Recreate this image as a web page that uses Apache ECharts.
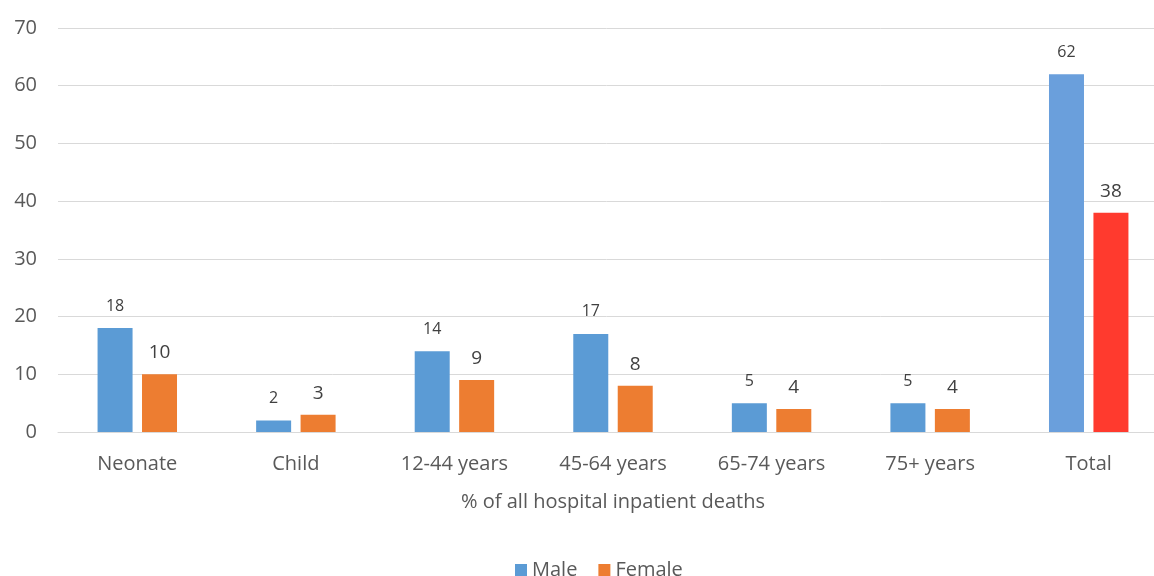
<!DOCTYPE html>
<html>
<head>
<meta charset="utf-8">
<script src="https://cdn.jsdelivr.net/npm/echarts@6/dist/echarts.min.js"></script>
<style>
  html, body { margin: 0; padding: 0; background: #fff; }
  #chart { width: 1154px; height: 576px; }
</style>
</head>
<body>
<div id="chart"></div>
<script>
// Share of hospital inpatient deaths by age group and sex (%)
const categories = ['Neonate', 'Child', '12-44 years', '45-64 years', '65-74 years', '75+ years', 'Total'];
const maleValues = [18, 2, 14, 17, 5, 5, 62];
const femaleValues = [10, 3, 9, 8, 4, 4, 38];
const yTicks = [0, 10, 20, 30, 40, 50, 60, 70];

const FONT = '"Open Sans", "Noto Sans", sans-serif';
const MALE = '#5b9bd5';
const FEMALE = '#ed7d31';
const MALE_TOTAL = '#6a9fdc';
const FEMALE_TOTAL = '#ff3a2e';

const lastIdx = categories.length - 1;

// The "Total" pair gets its own, stronger colours
function seriesData(values, totalColor) {
  return values.map((v, i) => i === lastIdx
    ? { value: v, itemStyle: { color: totalColor } }
    : { value: v });
}

const chart = echarts.init(document.getElementById('chart'), null, { renderer: 'canvas' });
chart.setOption({
  animation: false,
  backgroundColor: '#ffffff',
  textStyle: { fontFamily: FONT },
  grid: { left: 58, top: 28, width: 1110, height: 404, containLabel: false, outerBoundsMode: 'none' },
  legend: {
    data: ['Male', 'Female'],
    left: 510,
    top: 555,
    itemWidth: 12,
    itemHeight: 12,
    itemGap: 21,
    icon: 'rect',
    textStyle: { fontFamily: FONT, fontSize: 20, color: '#595959' }
  },
  xAxis: {
    type: 'category',
    data: categories,
    name: '% of all hospital inpatient deaths',
    nameLocation: 'middle',
    nameGap: 60,
    nameTextStyle: { fontFamily: FONT, fontSize: 20, color: '#595959' },
    axisLine: { show: true, lineStyle: { color: '#d9d9d9', width: 1 } },
    axisTick: { show: false },
    axisLabel: { fontFamily: FONT, fontSize: 20, color: '#595959', margin: 22 }
  },
  yAxis: {
    type: 'value',
    min: yTicks[0],
    max: yTicks[yTicks.length - 1],
    interval: yTicks[1] - yTicks[0],
    axisLine: { show: false },
    axisTick: { show: false },
    axisLabel: { fontFamily: FONT, fontSize: 20, color: '#595959', margin: 21 },
    splitLine: { lineStyle: { color: '#d9d9d9', width: 1 } }
  },
  series: [
    {
      name: 'Male',
      type: 'bar',
      data: seriesData(maleValues, MALE_TOTAL),
      itemStyle: { color: MALE },
      barWidth: 35,
      barGap: '27%',
      label: {
        show: true, position: 'top', distance: 14,
        fontFamily: FONT, fontSize: 16, color: '#404040'
      }
    },
    {
      name: 'Female',
      type: 'bar',
      data: seriesData(femaleValues, FEMALE_TOTAL),
      itemStyle: { color: FEMALE },
      barWidth: 35,
      label: {
        show: true, position: 'top', distance: 12,
        fontFamily: FONT, fontSize: 19, color: '#404040'
      }
    }
  ]
});
</script>
</body>
</html>
